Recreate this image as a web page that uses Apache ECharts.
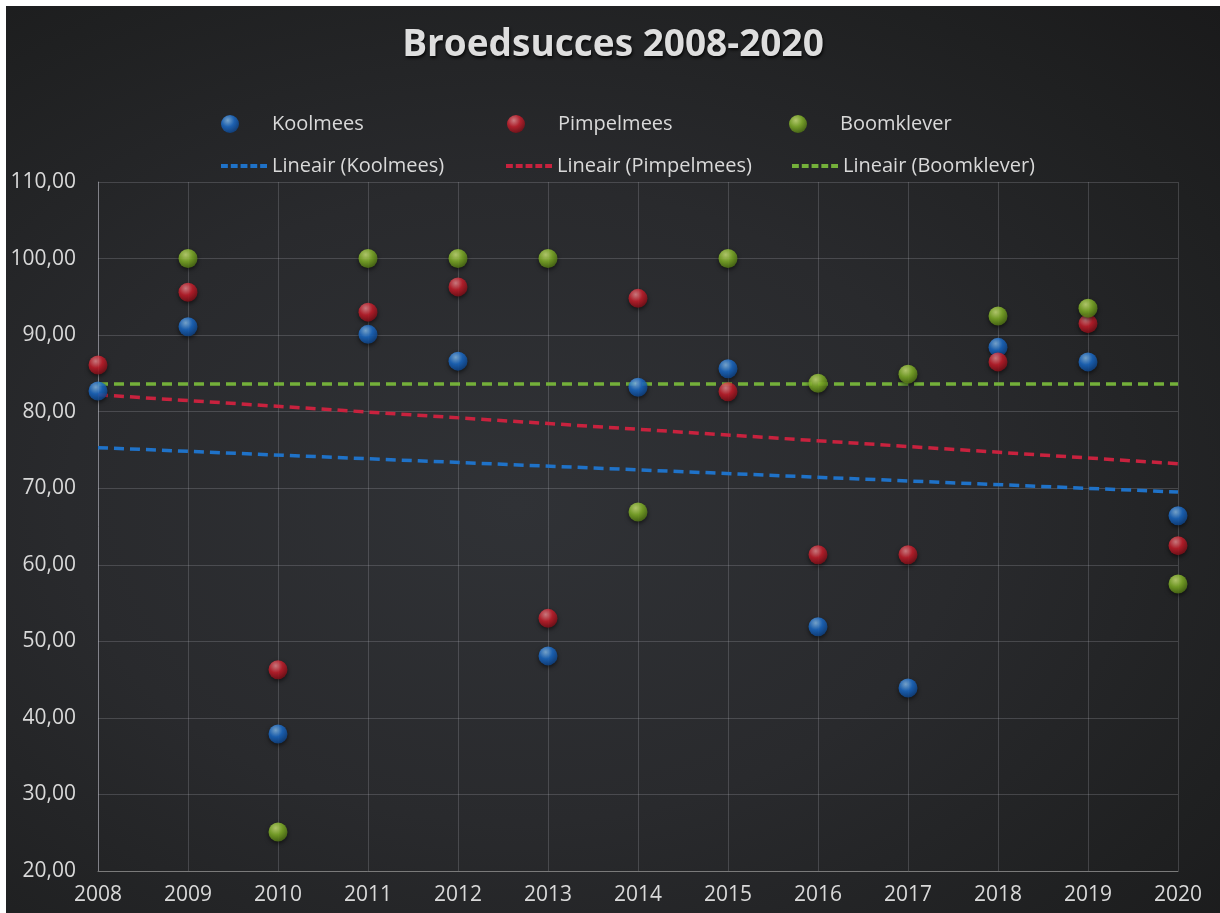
<!DOCTYPE html>
<html>
<head>
    <meta charset="utf-8">
    <title>Broedsucces 2008-2020</title>
    <script src="https://cdn.jsdelivr.net/npm/echarts@6/dist/echarts.min.js"></script>
    <style>
        html, body { margin: 0; padding: 0; background: #fff; }
        #wrap { position: relative; width: 1220px; height: 913px; background: #fff; }
        #chart {
            position: absolute; left: 6px; top: 6px; width: 1214px; height: 907px;
            background: radial-gradient(ellipse at 42% 55%, #303236 0%, #292a2d 45%, #1f2021 80%, #1a1a1b 100%);
        }
    </style>
</head>
<body>
<div id="wrap"><div id="chart"></div></div>
<script type="text/javascript">
    // jaren en broedsucces (%) per soort
    var years = [2008, 2009, 2010, 2011, 2012, 2013, 2014, 2015, 2016, 2017, 2018, 2019, 2020];
    var koolmees   = [82.7, 91.1, 37.9, 90.1, 86.6, 48.1, 83.2, 85.6, 51.9, 43.9, 88.4, 86.5, 66.4];
    var pimpelmees = [86.1, 95.6, 46.3, 93.0, 96.3, 53.0, 94.8, 82.6, 61.3, 61.3, 86.5, 91.5, 62.5];
    // 2008: geen waarde voor boomklever
    var boomklever = [null, 100.0, 25.1, 100.0, 100.0, 100.0, 66.9, 100.0, 83.7, 84.9, 92.5, 93.5, 57.5];

    // lineaire trendlijnen: waarde bij 2008 en bij 2020
    var trendYears = [2008, 2020];
    var trendKoolmees   = [75.3, 69.5];
    var trendPimpelmees = [82.2, 73.2];
    var trendBoomklever = [83.6, 83.6];

    var textColor = '#d9d9d9';
    var font = '"Open Sans", "Noto Sans", sans-serif';
    // gestreept lijntje voor de legenda van de trendlijnen
    var dashIcon = 'path://M0,0h7v4h-7z M10,0h7v4h-7z M20,0h7v4h-7z M30,0h7v4h-7z M40,0h7v4h-7z';

    function pairs(xs, ys) {
        var out = [];
        for (var i = 0; i < xs.length; i++) {
            if (ys[i] !== null) out.push([xs[i], ys[i]]);
        }
        return out;
    }

    function bol(light, base, dark) {
        return {
            type: 'radial', x: 0.38, y: 0.3, r: 0.8,
            colorStops: [
                {offset: 0, color: light},
                {offset: 0.45, color: base},
                {offset: 1, color: dark}
            ]
        };
    }

    var blauw = bol('#8cc4f5', '#1c70d2', '#0a3a7a');
    var rood = bol('#f49096', '#d2202e', '#6e0a12');
    var groen = bol('#d6f080', '#88ba2a', '#43640e');

    function scatter(name, data, color) {
        return {
            name: name,
            type: 'scatter',
            symbolSize: 19,
            data: pairs(years, data),
            z: 5,
            itemStyle: {
                color: color,
                shadowBlur: 4,
                shadowColor: 'rgba(0,0,0,0.7)',
                shadowOffsetY: 2
            }
        };
    }

    function trend(name, data, color) {
        return {
            name: name,
            type: 'line',
            symbol: 'none',
            data: pairs(trendYears, data),
            z: 3,
            lineStyle: {color: color, width: 3.5, type: [10, 6]},
            itemStyle: {color: color}
        };
    }

    function legendItem(name, left, top, w, h, icon) {
        var item = {name: name};
        if (icon) item.icon = icon;
        return {
            data: [item],
            left: left,
            top: top,
            itemWidth: w,
            itemHeight: h,
            itemGap: 0,
            selectedMode: false,
            textStyle: {color: textColor, fontSize: 20, fontFamily: font}
        };
    }

    var chart = echarts.init(document.getElementById('chart'));

    chart.setOption({
        backgroundColor: 'transparent',
        title: {
            text: 'Broedsucces 2008-2020',
            left: 'center',
            top: 16,
            textStyle: {
                color: '#dedede',
                fontSize: 37,
                fontWeight: 'bold',
                fontFamily: font,
                textShadowColor: 'rgba(0,0,0,0.8)',
                textShadowBlur: 3,
                textShadowOffsetX: 1,
                textShadowOffsetY: 2
            }
        },
        legend: [
            legendItem('Koolmees', 210, 103, 74, 18),
            legendItem('Pimpelmees', 496, 103, 74, 18),
            legendItem('Boomklever', 778, 103, 74, 18),
            legendItem('Lineair (Koolmees)', 210, 145, 46, 4, dashIcon),
            legendItem('Lineair (Pimpelmees)', 495, 145, 46, 4, dashIcon),
            legendItem('Lineair (Boomklever)', 781, 145, 46, 4, dashIcon)
        ],
        grid: {left: 92, right: 42, top: 176, bottom: 42, containLabel: false},
        xAxis: {
            type: 'value',
            min: 2008,
            max: 2020,
            interval: 1,
            axisLine: {show: true, lineStyle: {color: '#7a7a7a', width: 1}},
            axisTick: {show: false},
            axisLabel: {
                color: textColor, fontSize: 21, fontFamily: font, margin: 14,
                formatter: function (v) { return String(v); }
            },
            splitLine: {show: true, lineStyle: {color: 'rgba(190,190,200,0.22)', width: 1}}
        },
        yAxis: {
            type: 'value',
            min: 20,
            max: 110,
            interval: 10,
            axisLine: {show: true, lineStyle: {color: 'rgba(200,200,210,0.45)', width: 1}},
            axisTick: {show: false},
            axisLabel: {
                color: textColor, fontSize: 21, fontFamily: font, margin: 22,
                formatter: function (v) { return v.toFixed(2).replace('.', ','); }
            },
            splitLine: {show: true, lineStyle: {color: 'rgba(190,190,200,0.22)', width: 1}}
        },
        series: [
            trend('Lineair (Koolmees)', trendKoolmees, '#1f72c8'),
            trend('Lineair (Pimpelmees)', trendPimpelmees, '#c8223e'),
            trend('Lineair (Boomklever)', trendBoomklever, '#74b03a'),
            scatter('Koolmees', koolmees, blauw),
            scatter('Pimpelmees', pimpelmees, rood),
            scatter('Boomklever', boomklever, groen)
        ]
    });
</script>
</body>
</html>
